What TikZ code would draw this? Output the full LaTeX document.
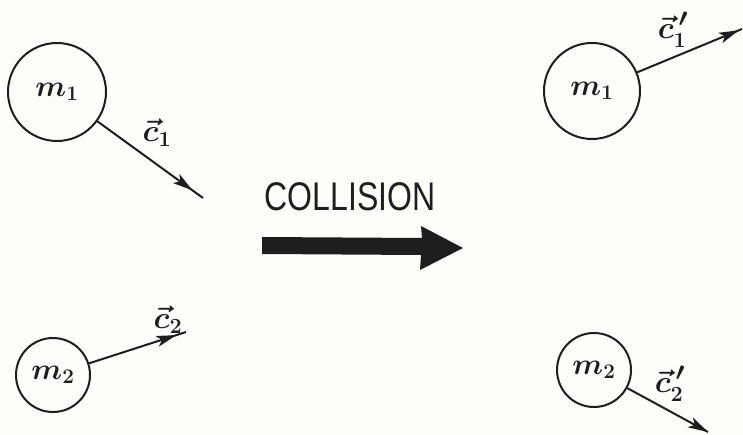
\documentclass[tikz,border=0pt]{standalone}
\usepackage{fontspec}
\setsansfont{Liberation Sans}
\usetikzlibrary{arrows.meta,decorations.markings}
\definecolor{ink}{RGB}{30,30,30}
\definecolor{paper}{RGB}{253,253,250}
\tikzset{
  mass/.style={circle,draw=ink,line width=2pt,inner sep=0pt,text=ink,font=\fontsize{24.88}{28}\selectfont\boldmath},
  vel/.style={draw=ink,line width=2pt,postaction={decorate},
    decoration={markings,mark=at position #1 with {\arrow[ink]{Stealth[length=20pt,width=11pt,inset=5pt]}}}},
  vlabel/.style={font=\fontsize{24.88}{26}\selectfont\boldmath,text=ink},
  bigarrow/.style={fill=ink,draw=none}
}
\begin{document}
\begin{tikzpicture}[x=1pt,y=-1pt]
\fill[paper] (0,0) rectangle (743,435);
\useasboundingbox (0,0) rectangle (743,435);
% masses
\node[mass,minimum size=98pt] (m1a) at (57,92) {\scalebox{1.2}{$m_{\scriptscriptstyle 1}$}};
\node[mass,minimum size=74pt] (m2a) at (53,375) {\scalebox{1.2}{$m_{\scriptscriptstyle 2}$}};
\node[mass,minimum size=96pt] (m1b) at (592,91) {\scalebox{1.2}{$m_{\scriptscriptstyle 1}$}};
\node[mass,minimum size=74pt] (m2b) at (594,370) {\scalebox{1.2}{$m_{\scriptscriptstyle 2}$}};
% velocity end points
\coordinate (e1a) at (203,198);
\coordinate (e2a) at (186,332);
\coordinate (e1b) at (742,29);
\coordinate (e2b) at (708,432);
\draw[vel=0.9] (m1a) -- (e1a);
\draw[vel=0.9] (m2a) -- (e2a);
\draw[vel=0.97] (m1b) -- (e1b);
\draw[vel=1] (m2b) -- (e2b);
% labels
\node[vlabel] (l1a) at (157,133) {\scalebox{1.25}{$\vec{c}_{\scriptscriptstyle 1}$}};
\node[vlabel] (l2a) at (168,320) {\scalebox{1.25}{$\vec{c}_{\scriptscriptstyle 2}$}};
\node[vlabel] (l1b) at (673,30) {\scalebox{1.25}{$\vec{c}_{\scriptscriptstyle 1}^{\,\prime}$}};
\node[vlabel] (l2b) at (670,384) {\scalebox{1.25}{$\vec{c}_{\scriptscriptstyle 2}^{\,\prime}$}};
% collision
\node[font=\sffamily\fontsize{40}{42}\selectfont,text=ink] (coll) at (350,197) {\scalebox{0.8}[1]{COLLISION}};
\fill[bigarrow] (262,237) -- (422,238) -- (421,226) -- (463,248) -- (420,270) -- (421,255) -- (262,254) -- cycle;
\end{tikzpicture}
\end{document}
